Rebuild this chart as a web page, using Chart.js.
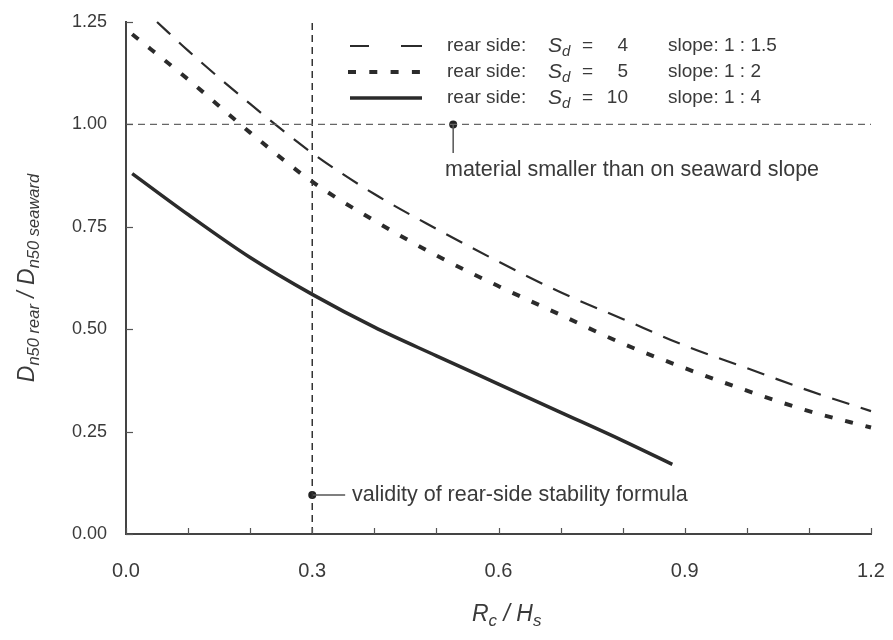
<!DOCTYPE html>
<html>
<head>
<meta charset="utf-8">
<script src="https://cdn.jsdelivr.net/npm/chart.js@4.4.1/dist/chart.umd.min.js"></script>
<style>
  html, body { margin: 0; padding: 0; background: #fff; }
  #wrap { width: 893px; height: 640px; }
</style>
</head>
<body>
<div id="wrap"><canvas id="c" width="893" height="640"></canvas></div>
<script>
// Rc/Hs values and Dn50 rear / Dn50 seaward
const xSd4 = [0.05, 0.1, 0.2, 0.3, 0.4, 0.5, 0.6, 0.7, 0.8, 0.9, 1.0, 1.1, 1.2]
const ySd4 = [1.25, 1.18, 1.05, 0.93, 0.83, 0.745, 0.665, 0.59, 0.525, 0.46, 0.405, 0.35, 0.30]

const xSd5 = [0.01, 0.1, 0.2, 0.3, 0.4, 0.5, 0.6, 0.7, 0.8, 0.9, 1.0, 1.1, 1.2]
const ySd5 = [1.22, 1.11, 0.98, 0.86, 0.765, 0.68, 0.605, 0.535, 0.465, 0.405, 0.35, 0.30, 0.26]

const xSd10 = [0.01, 0.1, 0.2, 0.3, 0.4, 0.5, 0.6, 0.7, 0.8, 0.88]
const ySd10 = [0.88, 0.78, 0.675, 0.585, 0.505, 0.435, 0.366, 0.297, 0.228, 0.17]

// reference lines and annotation anchors
const limitY = 1.0
const validX = 0.3
const materialDot = [0.527, 1.0]
const materialLineEnd = 0.93
const validDot = [0.3, 0.095]
const validLineEnd = 0.353

const legendRows = [
  { sd: '4', slope: '1 : 1.5' },
  { sd: '5', slope: '1 : 2' },
  { sd: '10', slope: '1 : 4' },
]

const xRange = [0, 1.2]
const yRange = [0, 1.25]

const INK = '#2b2b2b'
const TXT = '#3a3a3a'
const FONT = '"Liberation Sans", Arial, sans-serif'

const pts = (xs, ys) => xs.map((x, i) => ({ x: x, y: ys[i] }))

const decor = {
  id: 'decor',
  afterDraw(chart) {
    const ctx = chart.ctx
    const xs = chart.scales.x
    const ys = chart.scales.y
    const area = chart.chartArea
    ctx.save()

    // inward tick marks
    ctx.strokeStyle = '#555'
    ctx.lineWidth = 1.2
    xs.ticks.forEach(t => {
      const px = Math.round(xs.getPixelForValue(t.value)) + 0.5
      ctx.beginPath()
      ctx.moveTo(px, area.bottom)
      ctx.lineTo(px, area.bottom - 6)
      ctx.stroke()
    })
    ys.ticks.forEach(t => {
      const py = Math.round(ys.getPixelForValue(t.value)) + 0.5
      ctx.beginPath()
      ctx.moveTo(area.left, py)
      ctx.lineTo(area.left + 7, py)
      ctx.stroke()
    })

    // legend
    const lx0 = 350, lx1 = 422
    const rowsY = [46, 72, 98]
    ctx.strokeStyle = INK
    ctx.lineCap = 'butt'
    // long dashes
    ctx.lineWidth = 2.2
    ctx.beginPath()
    ctx.moveTo(lx0, rowsY[0]); ctx.lineTo(lx0 + 19, rowsY[0])
    ctx.moveTo(lx0 + 51, rowsY[0]); ctx.lineTo(lx1, rowsY[0])
    ctx.stroke()
    // short dashes
    ctx.lineWidth = 4
    ctx.setLineDash([8, 13.3])
    ctx.beginPath()
    ctx.moveTo(lx0 - 2, rowsY[1]); ctx.lineTo(lx1, rowsY[1])
    ctx.stroke()
    ctx.setLineDash([])
    // solid
    ctx.lineWidth = 3.5
    ctx.beginPath()
    ctx.moveTo(lx0, rowsY[2]); ctx.lineTo(lx1, rowsY[2])
    ctx.stroke()

    ctx.fillStyle = TXT
    ctx.textBaseline = 'middle'
    legendRows.forEach((r, i) => {
      const y = rowsY[i]
      ctx.font = '19px ' + FONT
      ctx.textAlign = 'left'
      ctx.fillText('rear side:', 447, y)
      ctx.font = 'italic 21px ' + FONT
      ctx.fillText('S', 548, y)
      ctx.font = 'italic 15px ' + FONT
      ctx.fillText('d', 562, y + 6)
      ctx.font = '19px ' + FONT
      ctx.fillText('=', 582, y)
      ctx.textAlign = 'right'
      ctx.fillText(r.sd, 628, y)
      ctx.textAlign = 'left'
      ctx.fillText('slope: ' + r.slope, 668, y)
    })

    // annotation texts
    ctx.font = '21.5px ' + FONT
    ctx.fillText('material smaller than on seaward slope', 445, 170)
    ctx.fillText('validity of rear-side stability formula', 352, ys.getPixelForValue(validDot[1]))

    // x axis title: Rc / Hs
    ctx.textBaseline = 'alphabetic'
    ctx.textAlign = 'left'
    let x = 472
    const by = 621
    const part = (s, f, dy) => {
      ctx.font = f
      ctx.fillText(s, x, by + dy)
      x += ctx.measureText(s).width
    }
    part('R', 'italic 23px ' + FONT, 0)
    part('c', 'italic 17px ' + FONT, 5)
    part(' / ', 'italic 23px ' + FONT, 0)
    part('H', 'italic 23px ' + FONT, 0)
    part('s', 'italic 17px ' + FONT, 5)

    // y axis title: Dn50 rear / Dn50 seaward
    const segs = [
      ['D', 'italic 23px ' + FONT, 0],
      ['n50 rear', 'italic 16.5px ' + FONT, 5],
      [' / ', 'italic 23px ' + FONT, 0],
      ['D', 'italic 23px ' + FONT, 0],
      ['n50 seaward', 'italic 16.5px ' + FONT, 5],
    ]
    let total = 0
    segs.forEach(s => { ctx.font = s[1]; total += ctx.measureText(s[0]).width })
    ctx.translate(34, (area.top + area.bottom) / 2 + total / 2)
    ctx.rotate(-Math.PI / 2)
    let ox = 0
    segs.forEach(s => {
      ctx.font = s[1]
      ctx.fillText(s[0], ox, s[2])
      ox += ctx.measureText(s[0]).width
    })
    ctx.restore()
  }
}

const ctx = document.getElementById('c').getContext('2d')
new Chart(ctx, {
  type: 'scatter',
  data: {
    datasets: [
      {
        label: 'limit',
        data: pts(xRange, [limitY, limitY]),
        showLine: true, borderColor: '#666', borderWidth: 1.2,
        borderDash: [7, 5], pointRadius: 0,
      },
      {
        label: 'validity',
        data: pts([validX, validX], yRange),
        showLine: true, borderColor: '#333', borderWidth: 1.5,
        borderDash: [7, 5], pointRadius: 0,
      },
      {
        label: 'Sd = 4',
        data: pts(xSd4, ySd4),
        showLine: true, borderColor: INK, borderWidth: 2.2,
        borderDash: [18, 12], pointRadius: 0, cubicInterpolationMode: 'monotone',
      },
      {
        label: 'Sd = 5',
        data: pts(xSd5, ySd5),
        showLine: true, borderColor: INK, borderWidth: 4,
        borderDash: [8, 13], pointRadius: 0, cubicInterpolationMode: 'monotone',
      },
      {
        label: 'Sd = 10',
        data: pts(xSd10, ySd10),
        showLine: true, borderColor: INK, borderWidth: 3.5,
        pointRadius: 0, cubicInterpolationMode: 'monotone',
      },
      {
        label: 'material connector',
        data: pts([materialDot[0], materialDot[0]], [materialDot[1], materialLineEnd]),
        showLine: true, borderColor: '#555', borderWidth: 1.5, pointRadius: 0,
      },
      {
        label: 'validity connector',
        data: pts([validDot[0], validLineEnd], [validDot[1], validDot[1]]),
        showLine: true, borderColor: '#555', borderWidth: 1.5, pointRadius: 0,
      },
      {
        label: 'dots',
        data: pts([materialDot[0], validDot[0]], [materialDot[1], validDot[1]]),
        pointRadius: 4, pointBackgroundColor: '#222', pointBorderWidth: 0,
      },
    ]
  },
  options: {
    responsive: false,
    animation: false,
    clip: false,
    layout: { padding: { top: 22, right: 22, left: 0, bottom: 0 } },
    plugins: { legend: { display: false }, tooltip: { enabled: false } },
    scales: {
      x: {
        type: 'linear',
        min: xRange[0], max: xRange[1],
        grid: { display: false, drawTicks: false },
        border: { display: true, color: '#444', width: 2 },
        ticks: {
          stepSize: 0.1,
          padding: 25,
          color: TXT,
          font: { family: FONT, size: 20 },
          maxRotation: 0,
          autoSkip: false,
          callback: v => (Math.round(v * 10) % 3 === 0 ? v.toFixed(1) : ''),
        },
        afterFit: s => {
          s.height = 106
          s.paddingLeft = 0
          s.paddingRight = 0
        },
      },
      y: {
        type: 'linear',
        min: yRange[0], max: yRange[1],
        grid: { display: false, drawTicks: false },
        border: { display: true, color: '#444', width: 2 },
        ticks: {
          stepSize: 0.25,
          padding: 19,
          color: TXT,
          font: { family: FONT, size: 18 },
          callback: v => v.toFixed(2),
        },
        afterFit: s => {
          s.width = 126
          s.paddingTop = 0
          s.paddingBottom = 0
        },
      },
    },
  },
  plugins: [decor],
})
</script>
</body>
</html>
